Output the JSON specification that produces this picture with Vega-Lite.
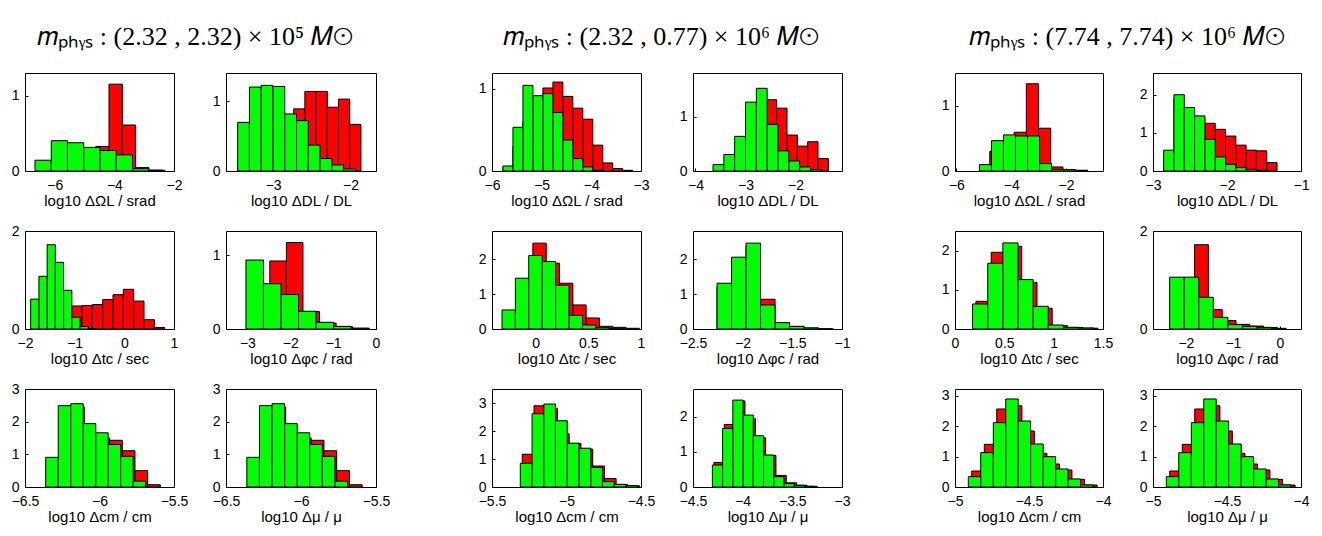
{
"$schema": "https://vega.github.io/schema/vega-lite/v6.json",
"background": "white",
"padding": {"left": 4, "top": 5, "right": 5, "bottom": 5},
"spacing": 3,
"datasets": {
"titles": [
{"g": 0, "t": "𝑚ₚₕᵧₛ : (2.32 , 2.32) × 10⁵ 𝑀⊙"},
{"g": 1, "t": "𝑚ₚₕᵧₛ : (2.32 , 0.77) × 10⁶ 𝑀⊙"},
{"g": 2, "t": "𝑚ₚₕᵧₛ : (7.74 , 7.74) × 10⁶ 𝑀⊙"}
],
"L11": [
{"s":"r","x0":-5.522,"x1":-5.075,"h":0.1},{"s":"r","x0":-5.075,"x1":-4.628,"h":0.2},{"s":"r","x0":-4.628,"x1":-4.181,"h":0.326},{"s":"r","x0":-4.181,"x1":-3.734,"h":1.152},{"s":"r","x0":-3.734,"x1":-3.287,"h":0.61},{"s":"r","x0":-3.287,"x1":-2.84,"h":0.045},{"s":"r","x0":-2.84,"x1":-2.393,"h":0.012},
{"s":"g","x0":-6.664,"x1":-6.119,"h":0.143},{"s":"g","x0":-6.119,"x1":-5.574,"h":0.402},{"s":"g","x0":-5.574,"x1":-5.029,"h":0.375},{"s":"g","x0":-5.029,"x1":-4.484,"h":0.313},{"s":"g","x0":-4.484,"x1":-3.939,"h":0.272},{"s":"g","x0":-3.939,"x1":-3.394,"h":0.214},{"s":"g","x0":-3.394,"x1":-2.849,"h":0.031},{"s":"g","x0":-2.849,"x1":-2.304,"h":0.009}
],
"L12": [
{"s":"r","x0":-3.46,"x1":-3.315,"h":0.05},{"s":"r","x0":-3.315,"x1":-3.17,"h":0.15},{"s":"r","x0":-3.17,"x1":-3.025,"h":0.3},{"s":"r","x0":-3.025,"x1":-2.88,"h":0.5},{"s":"r","x0":-2.88,"x1":-2.735,"h":0.7},{"s":"r","x0":-2.735,"x1":-2.59,"h":0.894},{"s":"r","x0":-2.59,"x1":-2.445,"h":1.145},{"s":"r","x0":-2.445,"x1":-2.3,"h":1.145},{"s":"r","x0":-2.3,"x1":-2.155,"h":0.918},{"s":"r","x0":-2.155,"x1":-2.01,"h":1.034},{"s":"r","x0":-2.01,"x1":-1.865,"h":0.671},
{"s":"g","x0":-3.459,"x1":-3.307,"h":0.7},{"s":"g","x0":-3.307,"x1":-3.155,"h":1.208},{"s":"g","x0":-3.155,"x1":-3.003,"h":1.232},{"s":"g","x0":-3.003,"x1":-2.85,"h":1.217},{"s":"g","x0":-2.85,"x1":-2.698,"h":0.821},{"s":"g","x0":-2.698,"x1":-2.546,"h":0.725},{"s":"g","x0":-2.546,"x1":-2.394,"h":0.372},{"s":"g","x0":-2.394,"x1":-2.241,"h":0.179},{"s":"g","x0":-2.241,"x1":-2.089,"h":0.087},{"s":"g","x0":-2.089,"x1":-1.937,"h":0.029}
],
"L21": [
{"s":"r","x0":-1.684,"x1":-1.476,"h":0.05},{"s":"r","x0":-1.476,"x1":-1.268,"h":0.15},{"s":"r","x0":-1.268,"x1":-1.06,"h":0.3},{"s":"r","x0":-1.06,"x1":-0.852,"h":0.47},{"s":"r","x0":-0.852,"x1":-0.644,"h":0.48},{"s":"r","x0":-0.644,"x1":-0.436,"h":0.5},{"s":"r","x0":-0.436,"x1":-0.228,"h":0.6},{"s":"r","x0":-0.228,"x1":-0.02,"h":0.7},{"s":"r","x0":-0.02,"x1":0.188,"h":0.81},{"s":"r","x0":0.188,"x1":0.396,"h":0.57},{"s":"r","x0":0.396,"x1":0.604,"h":0.19},{"s":"r","x0":0.604,"x1":0.812,"h":0.03},
{"s":"g","x0":-1.886,"x1":-1.72,"h":0.61},{"s":"g","x0":-1.72,"x1":-1.554,"h":1.076},{"s":"g","x0":-1.554,"x1":-1.389,"h":1.72},{"s":"g","x0":-1.389,"x1":-1.223,"h":1.36},{"s":"g","x0":-1.223,"x1":-1.057,"h":0.79},{"s":"g","x0":-1.057,"x1":-0.891,"h":0.24},{"s":"g","x0":-0.891,"x1":-0.725,"h":0.05},{"s":"g","x0":-0.725,"x1":-0.56,"h":0.01}
],
"L22": [
{"s":"r","x0":-2.865,"x1":-2.478,"h":0.4},{"s":"r","x0":-2.478,"x1":-2.091,"h":0.923},{"s":"r","x0":-2.091,"x1":-1.704,"h":1.173},{"s":"r","x0":-1.704,"x1":-1.317,"h":0.236},{"s":"r","x0":-1.317,"x1":-0.93,"h":0.08},{"s":"r","x0":-0.93,"x1":-0.543,"h":0.03},{"s":"r","x0":-0.543,"x1":-0.156,"h":0.01},
{"s":"g","x0":-3.035,"x1":-2.626,"h":0.936},{"s":"g","x0":-2.626,"x1":-2.217,"h":0.614},{"s":"g","x0":-2.217,"x1":-1.808,"h":0.468},{"s":"g","x0":-1.808,"x1":-1.399,"h":0.241},{"s":"g","x0":-1.399,"x1":-0.99,"h":0.091},{"s":"g","x0":-0.99,"x1":-0.581,"h":0.036},{"s":"g","x0":-0.581,"x1":-0.172,"h":0.01}
],
"L3": [
{"s":"r","x0":-6.357,"x1":-6.272,"h":0.85},{"s":"r","x0":-6.272,"x1":-6.187,"h":2.4},{"s":"r","x0":-6.187,"x1":-6.102,"h":2.45},{"s":"r","x0":-6.102,"x1":-6.017,"h":1.6},{"s":"r","x0":-6.017,"x1":-5.932,"h":1.5},{"s":"r","x0":-5.932,"x1":-5.847,"h":1.43},{"s":"r","x0":-5.847,"x1":-5.762,"h":1.11},{"s":"r","x0":-5.762,"x1":-5.677,"h":0.5},{"s":"r","x0":-5.677,"x1":-5.592,"h":0.07},
{"s":"g","x0":-6.361,"x1":-6.277,"h":0.908},{"s":"g","x0":-6.277,"x1":-6.193,"h":2.49},{"s":"g","x0":-6.193,"x1":-6.109,"h":2.55},{"s":"g","x0":-6.109,"x1":-6.025,"h":1.94},{"s":"g","x0":-6.025,"x1":-5.942,"h":1.66},{"s":"g","x0":-5.942,"x1":-5.858,"h":1.3},{"s":"g","x0":-5.858,"x1":-5.774,"h":0.94},{"s":"g","x0":-5.774,"x1":-5.69,"h":0.18}
],
"M11": [
{"s":"r","x0":-5.779,"x1":-5.578,"h":0.05},{"s":"r","x0":-5.578,"x1":-5.377,"h":0.3},{"s":"r","x0":-5.377,"x1":-5.176,"h":0.6},{"s":"r","x0":-5.176,"x1":-4.975,"h":0.85},{"s":"r","x0":-4.975,"x1":-4.774,"h":1.008},{"s":"r","x0":-4.774,"x1":-4.573,"h":1.08},{"s":"r","x0":-4.573,"x1":-4.373,"h":0.906},{"s":"r","x0":-4.373,"x1":-4.172,"h":0.763},{"s":"r","x0":-4.172,"x1":-3.971,"h":0.629},{"s":"r","x0":-3.971,"x1":-3.77,"h":0.314},{"s":"r","x0":-3.77,"x1":-3.569,"h":0.098},{"s":"r","x0":-3.569,"x1":-3.368,"h":0.029},{"s":"r","x0":-3.368,"x1":-3.167,"h":0.008},
{"s":"g","x0":-5.779,"x1":-5.578,"h":0.061},{"s":"g","x0":-5.578,"x1":-5.377,"h":0.531},{"s":"g","x0":-5.377,"x1":-5.176,"h":1.04},{"s":"g","x0":-5.176,"x1":-4.975,"h":0.914},{"s":"g","x0":-4.975,"x1":-4.774,"h":0.939},{"s":"g","x0":-4.774,"x1":-4.573,"h":0.71},{"s":"g","x0":-4.573,"x1":-4.373,"h":0.376},{"s":"g","x0":-4.373,"x1":-4.172,"h":0.151},{"s":"g","x0":-4.172,"x1":-3.971,"h":0.049},{"s":"g","x0":-3.971,"x1":-3.77,"h":0.008}
],
"M12": [
{"s":"r","x0":-3.617,"x1":-3.41,"h":0.08},{"s":"r","x0":-3.41,"x1":-3.203,"h":0.25},{"s":"r","x0":-3.203,"x1":-2.997,"h":0.5},{"s":"r","x0":-2.997,"x1":-2.79,"h":1.0},{"s":"r","x0":-2.79,"x1":-2.583,"h":1.2},{"s":"r","x0":-2.583,"x1":-2.377,"h":1.309},{"s":"r","x0":-2.377,"x1":-2.17,"h":1.154},{"s":"r","x0":-2.17,"x1":-1.963,"h":0.66},{"s":"r","x0":-1.963,"x1":-1.757,"h":0.457},{"s":"r","x0":-1.757,"x1":-1.55,"h":0.537},{"s":"r","x0":-1.55,"x1":-1.343,"h":0.228},
{"s":"g","x0":-3.65,"x1":-3.433,"h":0.117},{"s":"g","x0":-3.433,"x1":-3.217,"h":0.302},{"s":"g","x0":-3.217,"x1":-3.0,"h":0.636},{"s":"g","x0":-3.0,"x1":-2.783,"h":1.265},{"s":"g","x0":-2.783,"x1":-2.567,"h":1.519},{"s":"g","x0":-2.567,"x1":-2.35,"h":0.858},{"s":"g","x0":-2.35,"x1":-2.133,"h":0.37},{"s":"g","x0":-2.133,"x1":-1.917,"h":0.185},{"s":"g","x0":-1.917,"x1":-1.7,"h":0.074},{"s":"g","x0":-1.7,"x1":-1.483,"h":0.025}
],
"M21": [
{"s":"r","x0":-0.28,"x1":-0.153,"h":0.5},{"s":"r","x0":-0.153,"x1":-0.027,"h":1.4},{"s":"r","x0":-0.027,"x1":0.1,"h":2.471},{"s":"r","x0":0.1,"x1":0.226,"h":1.894},{"s":"r","x0":0.226,"x1":0.353,"h":1.317},{"s":"r","x0":0.353,"x1":0.479,"h":0.692},{"s":"r","x0":0.479,"x1":0.605,"h":0.317},{"s":"r","x0":0.605,"x1":0.732,"h":0.077},{"s":"r","x0":0.732,"x1":0.858,"h":0.048},{"s":"r","x0":0.858,"x1":0.984,"h":0.02},
{"s":"g","x0":-0.32,"x1":-0.193,"h":0.548},{"s":"g","x0":-0.193,"x1":-0.066,"h":1.462},{"s":"g","x0":-0.066,"x1":0.062,"h":2.115},{"s":"g","x0":0.062,"x1":0.189,"h":1.942},{"s":"g","x0":0.189,"x1":0.316,"h":1.26},{"s":"g","x0":0.316,"x1":0.444,"h":0.394},{"s":"g","x0":0.444,"x1":0.571,"h":0.115},{"s":"g","x0":0.571,"x1":0.698,"h":0.048},{"s":"g","x0":0.698,"x1":0.826,"h":0.02}
],
"M22": [
{"s":"r","x0":-2.258,"x1":-2.112,"h":1.2},{"s":"r","x0":-2.112,"x1":-1.966,"h":2.0},{"s":"r","x0":-1.966,"x1":-1.82,"h":2.4},{"s":"r","x0":-1.82,"x1":-1.674,"h":0.856},{"s":"r","x0":-1.674,"x1":-1.528,"h":0.17},{"s":"r","x0":-1.528,"x1":-1.382,"h":0.07},{"s":"r","x0":-1.382,"x1":-1.236,"h":0.03},{"s":"r","x0":-1.236,"x1":-1.09,"h":0.01},
{"s":"g","x0":-2.258,"x1":-2.112,"h":1.317},{"s":"g","x0":-2.112,"x1":-1.966,"h":2.067},{"s":"g","x0":-1.966,"x1":-1.82,"h":2.471},{"s":"g","x0":-1.82,"x1":-1.674,"h":0.692},{"s":"g","x0":-1.674,"x1":-1.528,"h":0.183},{"s":"g","x0":-1.528,"x1":-1.382,"h":0.077},{"s":"g","x0":-1.382,"x1":-1.236,"h":0.029}
],
"M31": [
{"s":"r","x0":-5.297,"x1":-5.218,"h":1.17},{"s":"r","x0":-5.218,"x1":-5.14,"h":2.9},{"s":"r","x0":-5.14,"x1":-5.061,"h":2.8},{"s":"r","x0":-5.061,"x1":-4.982,"h":1.9},{"s":"r","x0":-4.982,"x1":-4.903,"h":1.55},{"s":"r","x0":-4.903,"x1":-4.824,"h":1.35},{"s":"r","x0":-4.824,"x1":-4.746,"h":0.75},{"s":"r","x0":-4.746,"x1":-4.667,"h":0.3},{"s":"r","x0":-4.667,"x1":-4.588,"h":0.08},{"s":"r","x0":-4.588,"x1":-4.509,"h":0.04},
{"s":"g","x0":-5.31,"x1":-5.231,"h":0.848},{"s":"g","x0":-5.231,"x1":-5.152,"h":2.616},{"s":"g","x0":-5.152,"x1":-5.074,"h":2.963},{"s":"g","x0":-5.074,"x1":-4.995,"h":2.366},{"s":"g","x0":-4.995,"x1":-4.916,"h":1.565},{"s":"g","x0":-4.916,"x1":-4.837,"h":1.386},{"s":"g","x0":-4.837,"x1":-4.759,"h":0.705},{"s":"g","x0":-4.759,"x1":-4.68,"h":0.191},{"s":"g","x0":-4.68,"x1":-4.601,"h":0.096},{"s":"g","x0":-4.601,"x1":-4.522,"h":0.048}
],
"M32": [
{"s":"r","x0":-4.289,"x1":-4.185,"h":0.7},{"s":"r","x0":-4.185,"x1":-4.081,"h":1.78},{"s":"r","x0":-4.081,"x1":-3.977,"h":2.45},{"s":"r","x0":-3.977,"x1":-3.873,"h":1.95},{"s":"r","x0":-3.873,"x1":-3.769,"h":1.4},{"s":"r","x0":-3.769,"x1":-3.665,"h":0.9},{"s":"r","x0":-3.665,"x1":-3.561,"h":0.33},{"s":"r","x0":-3.561,"x1":-3.457,"h":0.12},{"s":"r","x0":-3.457,"x1":-3.353,"h":0.05},{"s":"r","x0":-3.353,"x1":-3.249,"h":0.02},
{"s":"g","x0":-4.305,"x1":-4.202,"h":0.626},{"s":"g","x0":-4.202,"x1":-4.099,"h":1.668},{"s":"g","x0":-4.099,"x1":-3.996,"h":2.474},{"s":"g","x0":-3.996,"x1":-3.893,"h":2.047},{"s":"g","x0":-3.893,"x1":-3.79,"h":1.46},{"s":"g","x0":-3.79,"x1":-3.687,"h":0.91},{"s":"g","x0":-3.687,"x1":-3.584,"h":0.294},{"s":"g","x0":-3.584,"x1":-3.481,"h":0.095},{"s":"g","x0":-3.481,"x1":-3.378,"h":0.047},{"s":"g","x0":-3.378,"x1":-3.275,"h":0.02}
],
"R11": [
{"s":"r","x0":-4.782,"x1":-4.337,"h":0.3},{"s":"r","x0":-4.337,"x1":-3.892,"h":0.45},{"s":"r","x0":-3.892,"x1":-3.447,"h":0.593},{"s":"r","x0":-3.447,"x1":-3.002,"h":1.335},{"s":"r","x0":-3.002,"x1":-2.557,"h":0.655},{"s":"r","x0":-2.557,"x1":-2.112,"h":0.062},{"s":"r","x0":-2.112,"x1":-1.667,"h":0.02},{"s":"r","x0":-1.667,"x1":-1.222,"h":0.01},
{"s":"g","x0":-5.16,"x1":-4.721,"h":0.098},{"s":"g","x0":-4.721,"x1":-4.282,"h":0.464},{"s":"g","x0":-4.282,"x1":-3.843,"h":0.552},{"s":"g","x0":-3.843,"x1":-3.404,"h":0.536},{"s":"g","x0":-3.404,"x1":-2.965,"h":0.536},{"s":"g","x0":-2.965,"x1":-2.526,"h":0.113},{"s":"g","x0":-2.526,"x1":-2.087,"h":0.026},{"s":"g","x0":-2.087,"x1":-1.648,"h":0.02},{"s":"g","x0":-1.648,"x1":-1.209,"h":0.01}
],
"R12": [
{"s":"r","x0":-2.856,"x1":-2.717,"h":0.5},{"s":"r","x0":-2.717,"x1":-2.577,"h":1.9},{"s":"r","x0":-2.577,"x1":-2.438,"h":1.6},{"s":"r","x0":-2.438,"x1":-2.299,"h":1.4},{"s":"r","x0":-2.299,"x1":-2.159,"h":1.251},{"s":"r","x0":-2.159,"x1":-2.02,"h":1.093},{"s":"r","x0":-2.02,"x1":-1.881,"h":0.916},{"s":"r","x0":-1.881,"x1":-1.742,"h":0.678},{"s":"r","x0":-1.742,"x1":-1.602,"h":0.546},{"s":"r","x0":-1.602,"x1":-1.463,"h":0.529},{"s":"r","x0":-1.463,"x1":-1.324,"h":0.22},
{"s":"g","x0":-2.856,"x1":-2.717,"h":0.546},{"s":"g","x0":-2.717,"x1":-2.577,"h":2.0},{"s":"g","x0":-2.577,"x1":-2.438,"h":1.665},{"s":"g","x0":-2.438,"x1":-2.299,"h":1.445},{"s":"g","x0":-2.299,"x1":-2.159,"h":0.828},{"s":"g","x0":-2.159,"x1":-2.02,"h":0.37},{"s":"g","x0":-2.02,"x1":-1.881,"h":0.176},{"s":"g","x0":-1.881,"x1":-1.742,"h":0.088},{"s":"g","x0":-1.742,"x1":-1.602,"h":0.044},{"s":"g","x0":-1.602,"x1":-1.463,"h":0.018}
],
"R21": [
{"s":"r","x0":0.212,"x1":0.367,"h":0.706},{"s":"r","x0":0.367,"x1":0.521,"h":1.957},{"s":"r","x0":0.521,"x1":0.676,"h":2.11},{"s":"r","x0":0.676,"x1":0.831,"h":1.19},{"s":"r","x0":0.831,"x1":0.985,"h":0.53},{"s":"r","x0":0.985,"x1":1.14,"h":0.085},{"s":"r","x0":1.14,"x1":1.295,"h":0.04},{"s":"r","x0":1.295,"x1":1.449,"h":0.02},
{"s":"g","x0":0.178,"x1":0.332,"h":0.638},{"s":"g","x0":0.332,"x1":0.485,"h":1.677},{"s":"g","x0":0.485,"x1":0.639,"h":2.196},{"s":"g","x0":0.639,"x1":0.792,"h":1.26},{"s":"g","x0":0.792,"x1":0.945,"h":0.579},{"s":"g","x0":0.945,"x1":1.099,"h":0.102},{"s":"g","x0":1.099,"x1":1.252,"h":0.043},{"s":"g","x0":1.252,"x1":1.406,"h":0.026}
],
"R22": [
{"s":"r","x0":-2.109,"x1":-1.815,"h":0.9},{"s":"r","x0":-1.815,"x1":-1.521,"h":1.72},{"s":"r","x0":-1.521,"x1":-1.227,"h":0.396},{"s":"r","x0":-1.227,"x1":-0.933,"h":0.171},{"s":"r","x0":-0.933,"x1":-0.64,"h":0.095},{"s":"r","x0":-0.64,"x1":-0.346,"h":0.06},{"s":"r","x0":-0.346,"x1":-0.052,"h":0.03},
{"s":"g","x0":-2.346,"x1":-2.036,"h":1.058},{"s":"g","x0":-2.036,"x1":-1.726,"h":1.058},{"s":"g","x0":-1.726,"x1":-1.417,"h":0.648},{"s":"g","x0":-1.417,"x1":-1.107,"h":0.239},{"s":"g","x0":-1.107,"x1":-0.797,"h":0.089},{"s":"g","x0":-0.797,"x1":-0.488,"h":0.055},{"s":"g","x0":-0.488,"x1":-0.178,"h":0.034},{"s":"g","x0":-0.178,"x1":0.132,"h":0.014}
],
"R3": [
{"s":"r","x0":-4.887,"x1":-4.802,"h":0.526},{"s":"r","x0":-4.802,"x1":-4.718,"h":1.402},{"s":"r","x0":-4.718,"x1":-4.633,"h":2.563},{"s":"r","x0":-4.633,"x1":-4.548,"h":2.67},{"s":"r","x0":-4.548,"x1":-4.464,"h":1.84},{"s":"r","x0":-4.464,"x1":-4.379,"h":1.106},{"s":"r","x0":-4.379,"x1":-4.294,"h":0.756},{"s":"r","x0":-4.294,"x1":-4.21,"h":0.559},{"s":"r","x0":-4.21,"x1":-4.125,"h":0.252},{"s":"r","x0":-4.125,"x1":-4.04,"h":0.066},
{"s":"g","x0":-4.91,"x1":-4.826,"h":0.34},{"s":"g","x0":-4.826,"x1":-4.741,"h":1.128},{"s":"g","x0":-4.741,"x1":-4.657,"h":2.114},{"s":"g","x0":-4.657,"x1":-4.573,"h":2.892},{"s":"g","x0":-4.573,"x1":-4.489,"h":2.169},{"s":"g","x0":-4.489,"x1":-4.404,"h":1.413},{"s":"g","x0":-4.404,"x1":-4.32,"h":0.997},{"s":"g","x0":-4.32,"x1":-4.236,"h":0.592},{"s":"g","x0":-4.236,"x1":-4.152,"h":0.263},{"s":"g","x0":-4.152,"x1":-4.067,"h":0.066}
]
},
"vconcat": [
{
"width": 1300, "height": 64,
"view": {"stroke": null},
"data": {"name": "titles"},
"mark": {"type": "text", "font": "Liberation Serif", "fontSize": 26, "align": "center", "baseline": "middle", "color": "#000"},
"encoding": {
"x": {"field": "g", "type": "quantitative", "scale": {"domain": [-0.3648, 2.4249], "nice": false, "zero": false}, "axis": null},
"text": {"field": "t", "type": "nominal"}
}
},
{
"columns": 6,
"spacing": {"row": 14, "column": 0},
"concat": [
{"width": 149, "height": 98, "data": {"name": "L11"}, "mark": {"type": "bar", "clip": true, "stroke": "#000", "strokeWidth": 1},
"encoding": {"x": {"field": "x0", "type": "quantitative", "scale": {"domain": [-7, -2], "nice": false, "zero": false}, "axis": {"values": [-6, -4, -2], "format": "~g", "title": "log10 ΔΩL / srad"}}, "x2": {"field": "x1"},
"y": {"field": "h", "type": "quantitative", "stack": null, "scale": {"domain": [0, 1.3], "nice": false}, "axis": {"values": [0, 1], "format": "d", "minExtent": 20}}, "y2": {"datum": 0},
"color": {"field": "s", "type": "nominal", "scale": {"domain": ["r", "g"], "range": ["#ff0000", "#00ff00"]}, "legend": null}}},
{"width": 150, "height": 98, "data": {"name": "L12"}, "mark": {"type": "bar", "clip": true, "stroke": "#000", "strokeWidth": 1},
"encoding": {"x": {"field": "x0", "type": "quantitative", "scale": {"domain": [-3.61, -1.67], "nice": false, "zero": false}, "axis": {"values": [-3, -2], "format": "~g", "title": "log10 ΔDL / DL"}}, "x2": {"field": "x1"},
"y": {"field": "h", "type": "quantitative", "stack": null, "scale": {"domain": [0, 1.41], "nice": false}, "axis": {"values": [0, 1], "format": "d", "minExtent": 36}}, "y2": {"datum": 0},
"color": {"field": "s", "type": "nominal", "scale": {"domain": ["r", "g"], "range": ["#ff0000", "#00ff00"]}, "legend": null}}},
{"width": 149, "height": 98, "data": {"name": "M11"}, "mark": {"type": "bar", "clip": true, "stroke": "#000", "strokeWidth": 1},
"encoding": {"x": {"field": "x0", "type": "quantitative", "scale": {"domain": [-6, -3], "nice": false, "zero": false}, "axis": {"values": [-6, -5, -4, -3], "format": "~g", "title": "log10 ΔΩL / srad"}}, "x2": {"field": "x1"},
"y": {"field": "h", "type": "quantitative", "stack": null, "scale": {"domain": [0, 1.19], "nice": false}, "axis": {"values": [0, 1], "format": "d", "minExtent": 100}}, "y2": {"datum": 0},
"color": {"field": "s", "type": "nominal", "scale": {"domain": ["r", "g"], "range": ["#ff0000", "#00ff00"]}, "legend": null}}},
{"width": 149, "height": 98, "data": {"name": "M12"}, "mark": {"type": "bar", "clip": true, "stroke": "#000", "strokeWidth": 1},
"encoding": {"x": {"field": "x0", "type": "quantitative", "scale": {"domain": [-4.05, -1.07], "nice": false, "zero": false}, "axis": {"values": [-4, -3, -2], "format": "~g", "title": "log10 ΔDL / DL"}}, "x2": {"field": "x1"},
"y": {"field": "h", "type": "quantitative", "stack": null, "scale": {"domain": [0, 1.8], "nice": false}, "axis": {"values": [0, 1], "format": "d", "minExtent": 36}}, "y2": {"datum": 0},
"color": {"field": "s", "type": "nominal", "scale": {"domain": ["r", "g"], "range": ["#ff0000", "#00ff00"]}, "legend": null}}},
{"width": 148, "height": 98, "data": {"name": "R11"}, "mark": {"type": "bar", "clip": true, "stroke": "#000", "strokeWidth": 1},
"encoding": {"x": {"field": "x0", "type": "quantitative", "scale": {"domain": [-6.05, -0.65], "nice": false, "zero": false}, "axis": {"values": [-6, -4, -2], "format": "~g", "title": "log10 ΔΩL / srad"}}, "x2": {"field": "x1"},
"y": {"field": "h", "type": "quantitative", "stack": null, "scale": {"domain": [0, 1.5], "nice": false}, "axis": {"values": [0, 1], "format": "d", "minExtent": 103}}, "y2": {"datum": 0},
"color": {"field": "s", "type": "nominal", "scale": {"domain": ["r", "g"], "range": ["#ff0000", "#00ff00"]}, "legend": null}}},
{"width": 148, "height": 98, "data": {"name": "R12"}, "mark": {"type": "bar", "clip": true, "stroke": "#000", "strokeWidth": 1},
"encoding": {"x": {"field": "x0", "type": "quantitative", "scale": {"domain": [-3, -1], "nice": false, "zero": false}, "axis": {"values": [-3, -2, -1], "format": "~g", "title": "log10 ΔDL / DL"}}, "x2": {"field": "x1"},
"y": {"field": "h", "type": "quantitative", "stack": null, "scale": {"domain": [0, 2.57], "nice": false}, "axis": {"values": [0, 1, 2], "format": "d", "minExtent": 38}}, "y2": {"datum": 0},
"color": {"field": "s", "type": "nominal", "scale": {"domain": ["r", "g"], "range": ["#ff0000", "#00ff00"]}, "legend": null}}},

{"width": 149, "height": 98, "data": {"name": "L21"}, "mark": {"type": "bar", "clip": true, "stroke": "#000", "strokeWidth": 1},
"encoding": {"x": {"field": "x0", "type": "quantitative", "scale": {"domain": [-2, 1], "nice": false, "zero": false}, "axis": {"values": [-2, -1, 0, 1], "format": "~g", "title": "log10 Δtc / sec"}}, "x2": {"field": "x1"},
"y": {"field": "h", "type": "quantitative", "stack": null, "scale": {"domain": [0, 2], "nice": false}, "axis": {"values": [0, 1, 2], "format": "d", "minExtent": 20}}, "y2": {"datum": 0},
"color": {"field": "s", "type": "nominal", "scale": {"domain": ["r", "g"], "range": ["#ff0000", "#00ff00"]}, "legend": null}}},
{"width": 150, "height": 98, "data": {"name": "L22"}, "mark": {"type": "bar", "clip": true, "stroke": "#000", "strokeWidth": 1},
"encoding": {"x": {"field": "x0", "type": "quantitative", "scale": {"domain": [-3.5, 0], "nice": false, "zero": false}, "axis": {"values": [-3, -2, -1, 0], "format": "~g", "title": "log10 Δφc / rad"}}, "x2": {"field": "x1"},
"y": {"field": "h", "type": "quantitative", "stack": null, "scale": {"domain": [0, 1.33], "nice": false}, "axis": {"values": [0, 1], "format": "d", "minExtent": 36}}, "y2": {"datum": 0},
"color": {"field": "s", "type": "nominal", "scale": {"domain": ["r", "g"], "range": ["#ff0000", "#00ff00"]}, "legend": null}}},
{"width": 149, "height": 98, "data": {"name": "M21"}, "mark": {"type": "bar", "clip": true, "stroke": "#000", "strokeWidth": 1},
"encoding": {"x": {"field": "x0", "type": "quantitative", "scale": {"domain": [-0.415, 1], "nice": false, "zero": false}, "axis": {"values": [0, 0.5, 1], "format": "~g", "title": "log10 Δtc / sec"}}, "x2": {"field": "x1"},
"y": {"field": "h", "type": "quantitative", "stack": null, "scale": {"domain": [0, 2.82], "nice": false}, "axis": {"values": [0, 1, 2], "format": "d", "minExtent": 100}}, "y2": {"datum": 0},
"color": {"field": "s", "type": "nominal", "scale": {"domain": ["r", "g"], "range": ["#ff0000", "#00ff00"]}, "legend": null}}},
{"width": 149, "height": 98, "data": {"name": "M22"}, "mark": {"type": "bar", "clip": true, "stroke": "#000", "strokeWidth": 1},
"encoding": {"x": {"field": "x0", "type": "quantitative", "scale": {"domain": [-2.5, -1], "nice": false, "zero": false}, "axis": {"values": [-2.5, -2, -1.5, -1], "format": "~g", "title": "log10 Δφc / rad"}}, "x2": {"field": "x1"},
"y": {"field": "h", "type": "quantitative", "stack": null, "scale": {"domain": [0, 2.82], "nice": false}, "axis": {"values": [0, 1, 2], "format": "d", "minExtent": 36}}, "y2": {"datum": 0},
"color": {"field": "s", "type": "nominal", "scale": {"domain": ["r", "g"], "range": ["#ff0000", "#00ff00"]}, "legend": null}}},
{"width": 148, "height": 98, "data": {"name": "R21"}, "mark": {"type": "bar", "clip": true, "stroke": "#000", "strokeWidth": 1},
"encoding": {"x": {"field": "x0", "type": "quantitative", "scale": {"domain": [0, 1.5], "nice": false, "zero": false}, "axis": {"values": [0, 0.5, 1, 1.5], "format": "~g", "title": "log10 Δtc / sec"}}, "x2": {"field": "x1"},
"y": {"field": "h", "type": "quantitative", "stack": null, "scale": {"domain": [0, 2.5], "nice": false}, "axis": {"values": [0, 1, 2], "format": "d", "minExtent": 103}}, "y2": {"datum": 0},
"color": {"field": "s", "type": "nominal", "scale": {"domain": ["r", "g"], "range": ["#ff0000", "#00ff00"]}, "legend": null}}},
{"width": 148, "height": 98, "data": {"name": "R22"}, "mark": {"type": "bar", "clip": true, "stroke": "#000", "strokeWidth": 1},
"encoding": {"x": {"field": "x0", "type": "quantitative", "scale": {"domain": [-2.7, 0.45], "nice": false, "zero": false}, "axis": {"values": [-2, -1, 0], "format": "~g", "title": "log10 Δφc / rad"}}, "x2": {"field": "x1"},
"y": {"field": "h", "type": "quantitative", "stack": null, "scale": {"domain": [0, 2], "nice": false}, "axis": {"values": [0, 1, 2], "format": "d", "minExtent": 38}}, "y2": {"datum": 0},
"color": {"field": "s", "type": "nominal", "scale": {"domain": ["r", "g"], "range": ["#ff0000", "#00ff00"]}, "legend": null}}},

{"width": 149, "height": 98, "data": {"name": "L3"}, "mark": {"type": "bar", "clip": true, "stroke": "#000", "strokeWidth": 1},
"encoding": {"x": {"field": "x0", "type": "quantitative", "scale": {"domain": [-6.5, -5.5], "nice": false, "zero": false}, "axis": {"values": [-6.5, -6, -5.5], "format": "~g", "title": "log10 Δcm / cm"}}, "x2": {"field": "x1"},
"y": {"field": "h", "type": "quantitative", "stack": null, "scale": {"domain": [0, 3], "nice": false}, "axis": {"values": [0, 1, 2, 3], "format": "d", "minExtent": 20}}, "y2": {"datum": 0},
"color": {"field": "s", "type": "nominal", "scale": {"domain": ["r", "g"], "range": ["#ff0000", "#00ff00"]}, "legend": null}}},
{"width": 150, "height": 98, "data": {"name": "L3"}, "mark": {"type": "bar", "clip": true, "stroke": "#000", "strokeWidth": 1},
"encoding": {"x": {"field": "x0", "type": "quantitative", "scale": {"domain": [-6.5, -5.5], "nice": false, "zero": false}, "axis": {"values": [-6.5, -6, -5.5], "format": "~g", "title": "log10 Δμ / μ"}}, "x2": {"field": "x1"},
"y": {"field": "h", "type": "quantitative", "stack": null, "scale": {"domain": [0, 3], "nice": false}, "axis": {"values": [0, 1, 2, 3], "format": "d", "minExtent": 36}}, "y2": {"datum": 0},
"color": {"field": "s", "type": "nominal", "scale": {"domain": ["r", "g"], "range": ["#ff0000", "#00ff00"]}, "legend": null}}},
{"width": 149, "height": 98, "data": {"name": "M31"}, "mark": {"type": "bar", "clip": true, "stroke": "#000", "strokeWidth": 1},
"encoding": {"x": {"field": "x0", "type": "quantitative", "scale": {"domain": [-5.5, -4.5], "nice": false, "zero": false}, "axis": {"values": [-5.5, -5, -4.5], "format": "~g", "title": "log10 Δcm / cm"}}, "x2": {"field": "x1"},
"y": {"field": "h", "type": "quantitative", "stack": null, "scale": {"domain": [0, 3.5], "nice": false}, "axis": {"values": [0, 1, 2, 3], "format": "d", "minExtent": 100}}, "y2": {"datum": 0},
"color": {"field": "s", "type": "nominal", "scale": {"domain": ["r", "g"], "range": ["#ff0000", "#00ff00"]}, "legend": null}}},
{"width": 149, "height": 98, "data": {"name": "M32"}, "mark": {"type": "bar", "clip": true, "stroke": "#000", "strokeWidth": 1},
"encoding": {"x": {"field": "x0", "type": "quantitative", "scale": {"domain": [-4.5, -3], "nice": false, "zero": false}, "axis": {"values": [-4.5, -4, -3.5, -3], "format": "~g", "title": "log10 Δμ / μ"}}, "x2": {"field": "x1"},
"y": {"field": "h", "type": "quantitative", "stack": null, "scale": {"domain": [0, 2.79], "nice": false}, "axis": {"values": [0, 1, 2], "format": "d", "minExtent": 36}}, "y2": {"datum": 0},
"color": {"field": "s", "type": "nominal", "scale": {"domain": ["r", "g"], "range": ["#ff0000", "#00ff00"]}, "legend": null}}},
{"width": 148, "height": 98, "data": {"name": "R3"}, "mark": {"type": "bar", "clip": true, "stroke": "#000", "strokeWidth": 1},
"encoding": {"x": {"field": "x0", "type": "quantitative", "scale": {"domain": [-5, -4], "nice": false, "zero": false}, "axis": {"values": [-5, -4.5, -4], "format": "~g", "title": "log10 Δcm / cm"}}, "x2": {"field": "x1"},
"y": {"field": "h", "type": "quantitative", "stack": null, "scale": {"domain": [0, 3.22], "nice": false}, "axis": {"values": [0, 1, 2, 3], "format": "d", "minExtent": 103}}, "y2": {"datum": 0},
"color": {"field": "s", "type": "nominal", "scale": {"domain": ["r", "g"], "range": ["#ff0000", "#00ff00"]}, "legend": null}}},
{"width": 148, "height": 98, "data": {"name": "R3"}, "mark": {"type": "bar", "clip": true, "stroke": "#000", "strokeWidth": 1},
"encoding": {"x": {"field": "x0", "type": "quantitative", "scale": {"domain": [-5, -4], "nice": false, "zero": false}, "axis": {"values": [-5, -4.5, -4], "format": "~g", "title": "log10 Δμ / μ"}}, "x2": {"field": "x1"},
"y": {"field": "h", "type": "quantitative", "stack": null, "scale": {"domain": [0, 3.22], "nice": false}, "axis": {"values": [0, 1, 2, 3], "format": "d", "minExtent": 38}}, "y2": {"datum": 0},
"color": {"field": "s", "type": "nominal", "scale": {"domain": ["r", "g"], "range": ["#ff0000", "#00ff00"]}, "legend": null}}}
]
}
],
"config": {
"view": {"stroke": "#000", "strokeWidth": 1},
"axis": {"domain": false, "grid": false, "ticks": true, "tickSize": -3, "tickColor": "#000", "labelColor": "#000", "labelFont": "Liberation Sans", "labelFontSize": 14, "titleFont": "Liberation Sans", "titleFontSize": 15, "titleFontWeight": "normal", "titleColor": "#000", "labelFlush": false, "labelOverlap": false},
"axisX": {"labelPadding": 10, "titlePadding": 1},
"axisY": {"labelPadding": 9, "title": null}
}
}
